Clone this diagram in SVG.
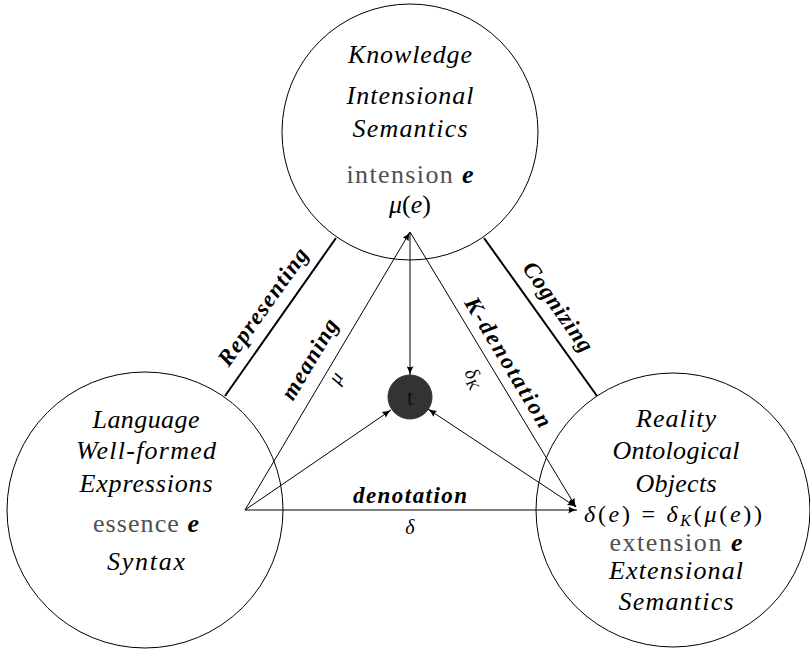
<svg xmlns="http://www.w3.org/2000/svg" width="810" height="650" viewBox="0 0 810 650" font-family="'Liberation Serif', serif">
<defs>
<style>
text{font-family:'Liberation Serif',serif}
.c{fill:#fff;stroke:#000;stroke-width:1}
.t{font-size:26px;font-style:italic;text-anchor:middle;fill:#000}
.r{font-style:normal}
.g{font-style:normal;fill:#505050}
.b{font-weight:bold;font-style:italic;fill:#000}
.lbl{font-size:23px;font-weight:bold;font-style:italic;text-anchor:middle;fill:#000}
.m{font-size:20px;font-style:italic;text-anchor:middle;fill:#000}
.a{stroke:#000;stroke-width:1;fill:none;marker-end:url(#ah)}
.aa{stroke:#000;stroke-width:1;fill:none;marker-end:url(#ah);marker-start:url(#ah)}
.thick{stroke:#000;stroke-width:2;fill:none}
</style>
<marker id="ah" viewBox="0 0 10 8" refX="10" refY="4" markerWidth="9" markerHeight="7" markerUnits="userSpaceOnUse" orient="auto-start-reverse">
<path d="M0,0 Q5,3 10,4 Q5,5 0,8 Q2,4 0,0 z" fill="#000"/>
</marker>
</defs>
<rect width="810" height="650" fill="#fff"/>

<g id="knowledge">
<circle class="c" cx="410" cy="132" r="128"/>
<text class="t" x="410" y="63" textLength="124">Knowledge</text>
<text class="t" x="410" y="104" textLength="127">Intensional</text>
<text class="t" x="410" y="137" textLength="115">Semantics</text>
<text class="t" x="410" y="183" textLength="127"><tspan class="g">intension </tspan><tspan class="b">e</tspan></text>
<text class="t" x="410" y="213">μ<tspan class="r">(</tspan>e<tspan class="r">)</tspan></text>
</g>

<g id="language">
<circle class="c" cx="145" cy="510" r="138"/>
<text class="t" x="146" y="428" textLength="107">Language</text>
<text class="t" x="146" y="459" textLength="140">Well-formed</text>
<text class="t" x="146" y="492" textLength="133">Expressions</text>
<text class="t" x="146" y="532" textLength="106"><tspan class="g">essence </tspan><tspan class="b">e</tspan></text>
<text class="t" x="146" y="570" textLength="78">Syntax</text>
</g>

<g id="reality">
<circle class="c" cx="673" cy="510" r="137"/>
<text class="t" x="676" y="427" textLength="80">Reality</text>
<text class="t" x="676" y="459" textLength="127">Ontological</text>
<text class="t" x="676" y="492" textLength="81">Objects</text>
<text class="t" x="584" y="522" style="text-anchor:start;font-size:24px" textLength="178">δ<tspan class="r">(</tspan>e<tspan class="r">) = </tspan>δ<tspan dy="4" style="font-size:16px">K</tspan><tspan class="r" dy="-4">(</tspan>μ<tspan class="r">(</tspan>e<tspan class="r">))</tspan></text>
<text class="t" x="676" y="551" textLength="133"><tspan class="g">extension </tspan><tspan class="b">e</tspan></text>
<text class="t" x="676" y="579" textLength="134">Extensional</text>
<text class="t" x="676" y="610" textLength="115">Semantics</text>
</g>

<g id="t">
<circle cx="410" cy="397" r="22" fill="#333" stroke="#333"/>
<text x="410" y="405" style="font-size:24px;text-anchor:middle;fill:#111">t</text>
</g>

<g id="connectors">
<line class="thick" x1="225" y1="396" x2="336" y2="238"/>
<line class="thick" x1="484" y1="238" x2="597" y2="396"/>
<line class="a" x1="245" y1="510" x2="577" y2="510"/>
<line class="a" x1="245" y1="510" x2="410" y2="232"/>
<line class="a" x1="245" y1="510" x2="391" y2="410"/>
<line class="a" x1="410" y1="232" x2="410" y2="375"/>
<line class="a" x1="410" y1="232" x2="576" y2="507"/>
<line class="aa" x1="428" y1="409" x2="576" y2="507"/>
</g>

<g id="labels">
<text class="lbl" transform="translate(269,311) rotate(-54.7)" x="0" y="0" textLength="139">Representing</text>
<text class="lbl" transform="translate(316,363) rotate(-59.3)" x="0" y="0" textLength="90">meaning</text>
<text class="m" transform="translate(341,381) rotate(-59.3)" x="0" y="0">μ</text>
<text class="lbl" transform="translate(552,311) rotate(54.7)" x="0" y="0" textLength="105">Cognizing</text>
<text class="lbl" transform="translate(502,366) rotate(58.9)" x="0" y="0" textLength="148">K-denotation</text>
<text class="m" transform="translate(469,381) rotate(58.9)" x="0" y="0">δ<tspan dy="4" style="font-size:15px">K</tspan></text>
<text class="lbl" x="410" y="503" textLength="114">denotation</text>
<text class="m" x="410" y="534">δ</text>
</g>
</svg>
